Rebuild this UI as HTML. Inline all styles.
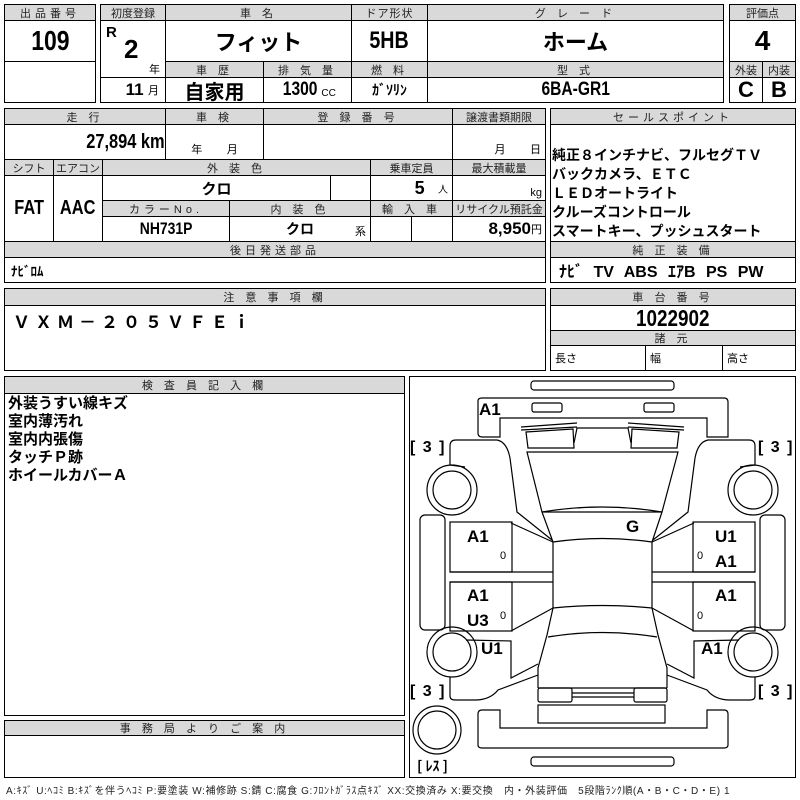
<!DOCTYPE html>
<html><head><meta charset="utf-8">
<style>
body{margin:0;width:800px;height:800px;background:#fff;position:relative;overflow:hidden;font-family:"Liberation Sans","Noto Sans CJK JP",sans-serif;}
.c{position:absolute;border:1px solid #000;box-sizing:border-box;display:flex;align-items:center;justify-content:center;background:#fff;color:#000;white-space:nowrap;}
.h{background:#d9d9d9;font-size:11px;letter-spacing:4px;color:#222;}
.b{font-family:"Liberation Sans Narrow","Liberation Sans","Noto Sans CJK JP",sans-serif;font-weight:bold;}
.j{font-family:"Noto Sans CJK JP",sans-serif;font-weight:bold;}
.t{position:absolute;white-space:nowrap;}
.n{display:inline-block;transform:scaleX(0.82);}
</style></head><body>
<div class="c h" style="left:4px;top:4px;width:92px;height:17px">出品番号</div>
<div class="c b" style="left:4px;top:20px;width:92px;height:42px;font-size:28px"><span class="n">109</span></div>
<div class="c" style="left:4px;top:61px;width:92px;height:42px"></div>
<div class="c h" style="left:100px;top:4px;width:66px;height:17px;letter-spacing:0">初度登録</div>
<div class="c h" style="left:165px;top:4px;width:187px;height:17px">車 名</div>
<div class="c h" style="left:351px;top:4px;width:77px;height:17px;letter-spacing:1px">ドア形状</div>
<div class="c h" style="left:427px;top:4px;width:297px;height:17px">グ レ ー ド</div>
<div class="c" style="left:100px;top:20px;width:66px;height:58px"></div>
<div class="t b" style="left:106px;top:24px;font-size:15px">R</div>
<div class="t b" style="left:124px;top:34px;font-size:26px">2</div>
<div class="t" style="left:149px;top:61px;font-size:11px">年</div>
<div class="c" style="left:100px;top:77px;width:66px;height:26px;justify-content:flex-end;padding-right:6px"><span class="b" style="font-size:17px">11</span>&nbsp;<span style="font-size:11px">月</span></div>
<div class="c j" style="left:165px;top:20px;width:187px;height:42px;font-size:22px">フィット</div>
<div class="c h" style="left:165px;top:61px;width:99px;height:17px">車 歴</div>
<div class="c h" style="left:263px;top:61px;width:89px;height:17px">排 気 量</div>
<div class="c j" style="left:165px;top:77px;width:99px;height:26px;font-size:20px">自家用</div>
<div class="c" style="left:263px;top:77px;width:89px;height:26px"><span class="b n" style="font-size:19px">1300</span><span style="font-size:10px;margin-top:6px">CC</span></div>
<div class="c b" style="left:351px;top:20px;width:77px;height:42px;font-size:24px"><span class="n">5HB</span></div>
<div class="c h" style="left:351px;top:61px;width:77px;height:17px">燃 料</div>
<div class="c j" style="left:351px;top:77px;width:77px;height:26px;font-size:14px">ｶﾞｿﾘﾝ</div>
<div class="c j" style="left:427px;top:20px;width:297px;height:42px;font-size:22px">ホーム</div>
<div class="c h" style="left:427px;top:61px;width:297px;height:17px">型 式</div>
<div class="c b" style="left:427px;top:77px;width:297px;height:26px;font-size:19px"><span class="n">6BA-GR1</span></div>
<div class="c h" style="left:729px;top:4px;width:67px;height:17px;letter-spacing:0">評価点</div>
<div class="c b" style="left:729px;top:20px;width:67px;height:42px;font-size:28px">4</div>
<div class="c h" style="left:729px;top:61px;width:34px;height:17px;letter-spacing:0">外装</div>
<div class="c h" style="left:762px;top:61px;width:34px;height:17px;letter-spacing:0">内装</div>
<div class="c b" style="left:729px;top:77px;width:34px;height:26px;font-size:22px">C</div>
<div class="c b" style="left:762px;top:77px;width:34px;height:26px;font-size:22px">B</div>
<div class="c h" style="left:4px;top:108px;width:162px;height:17px">走 行</div>
<div class="c h" style="left:165px;top:108px;width:99px;height:17px">車 検</div>
<div class="c h" style="left:263px;top:108px;width:190px;height:17px">登 録 番 号</div>
<div class="c h" style="left:452px;top:108px;width:94px;height:17px;letter-spacing:0">譲渡書類期限</div>
<div class="c" style="left:4px;top:124px;width:162px;height:36px;justify-content:flex-end;padding-right:0"><span class="b n" style="font-size:20px;transform-origin:right">27,894 km</span></div>
<div class="c" style="left:165px;top:124px;width:99px;height:36px;font-size:11px;align-items:flex-end;padding-bottom:2px">年&nbsp;&nbsp;&nbsp;&nbsp;&nbsp;&nbsp;&nbsp;&nbsp;月</div>
<div class="c" style="left:263px;top:124px;width:190px;height:36px"></div>
<div class="c" style="left:452px;top:124px;width:94px;height:36px;font-size:11px;align-items:flex-end;justify-content:flex-end;padding:0 4px 2px 0">月&nbsp;&nbsp;&nbsp;&nbsp;&nbsp;&nbsp;&nbsp;&nbsp;日</div>
<div class="c h" style="left:4px;top:159px;width:50px;height:17px;letter-spacing:0">シフト</div>
<div class="c h" style="left:53px;top:159px;width:50px;height:17px;letter-spacing:0">エアコン</div>
<div class="c h" style="left:102px;top:159px;width:269px;height:17px">外 装 色</div>
<div class="c h" style="left:370px;top:159px;width:83px;height:17px;letter-spacing:0">乗車定員</div>
<div class="c h" style="left:452px;top:159px;width:94px;height:17px;letter-spacing:0">最大積載量</div>
<div class="c b" style="left:4px;top:175px;width:50px;height:67px;font-size:20px"><span class="n">FAT</span></div>
<div class="c b" style="left:53px;top:175px;width:50px;height:67px;font-size:20px"><span class="n">AAC</span></div>
<div class="c j" style="left:102px;top:175px;width:229px;height:26px;font-size:15px">クロ</div>
<div class="c" style="left:330px;top:175px;width:41px;height:26px"></div>
<div class="c" style="left:370px;top:175px;width:83px;height:26px;justify-content:flex-end;padding-right:4px"><span class="b" style="font-size:18px">5</span>&nbsp;&nbsp;&nbsp;<span style="font-size:10px">人</span></div>
<div class="c" style="left:452px;top:175px;width:94px;height:26px;font-size:11px;justify-content:flex-end;align-items:flex-end;padding:0 3px 1px 0">kg</div>
<div class="c h" style="left:102px;top:200px;width:128px;height:17px">カラーNo.</div>
<div class="c h" style="left:229px;top:200px;width:142px;height:17px">内 装 色</div>
<div class="c h" style="left:370px;top:200px;width:83px;height:17px">輸 入 車</div>
<div class="c h" style="left:452px;top:200px;width:94px;height:17px;letter-spacing:0">リサイクル預託金</div>
<div class="c b" style="left:102px;top:216px;width:128px;height:26px;font-size:17px"><span class="n">NH731P</span></div>
<div class="c j" style="left:229px;top:216px;width:142px;height:26px;font-size:14px">クロ<span style="position:absolute;right:4px;bottom:2px;font-size:11px;font-weight:normal">系</span></div>
<div class="c" style="left:370px;top:216px;width:42px;height:26px"></div>
<div class="c" style="left:411px;top:216px;width:42px;height:26px"></div>
<div class="c" style="left:452px;top:216px;width:94px;height:26px;justify-content:flex-end;padding-right:3px"><span class="b" style="font-size:17px">8,950</span><span style="font-size:11px">円</span></div>
<div class="c h" style="left:4px;top:241px;width:542px;height:17px">後日発送部品</div>
<div class="c j" style="left:4px;top:257px;width:542px;height:26px;font-size:13px;justify-content:flex-start;padding-left:6px">ﾅﾋﾞﾛﾑ</div>
<div class="c h" style="left:550px;top:108px;width:246px;height:17px">セールスポイント</div>
<div class="c" style="left:550px;top:124px;width:246px;height:118px"></div>
<div class="t j" style="left:552px;top:146px;font-size:14px;line-height:19px">純正８インチナビ、フルセグＴＶ<br>バックカメラ、ＥＴＣ<br>ＬＥＤオートライト<br>クルーズコントロール<br>スマートキー、プッシュスタート</div>
<div class="c h" style="left:550px;top:241px;width:246px;height:17px">純 正 装 備</div>
<div class="c b" style="left:550px;top:257px;width:246px;height:26px;font-size:16px;justify-content:flex-start;padding-left:8px;word-spacing:6px">ﾅﾋﾞ TV ABS ｴｱB PS PW</div>
<div class="c h" style="left:4px;top:288px;width:542px;height:18px">注 意 事 項 欄</div>
<div class="c" style="left:4px;top:305px;width:542px;height:66px;align-items:flex-start;justify-content:flex-start;padding:2px 0 0 8px;font-size:17px;letter-spacing:5px;font-weight:bold">ＶＸＭ－２０５ＶＦＥｉ</div>
<div class="c h" style="left:550px;top:288px;width:246px;height:18px">車 台 番 号</div>
<div class="c b" style="left:550px;top:305px;width:246px;height:26px;font-size:23px"><span class="n">1022902</span></div>
<div class="c h" style="left:550px;top:330px;width:246px;height:16px">諸 元</div>
<div class="c" style="left:550px;top:345px;width:96px;height:26px;font-size:11px;justify-content:flex-start;padding-left:4px">長さ</div>
<div class="c" style="left:645px;top:345px;width:78px;height:26px;font-size:11px;justify-content:flex-start;padding-left:4px">幅</div>
<div class="c" style="left:722px;top:345px;width:74px;height:26px;font-size:11px;justify-content:flex-start;padding-left:4px">高さ</div>
<div class="c h" style="left:4px;top:376px;width:401px;height:18px">検 査 員 記 入 欄</div>
<div class="c" style="left:4px;top:393px;width:401px;height:323px"></div>
<div class="t j" style="left:8px;top:394px;font-size:15px;line-height:18px">外装うすい線キズ<br>室内薄汚れ<br>室内内張傷<br>タッチＰ跡<br>ホイールカバーＡ</div>
<div class="c h" style="left:4px;top:720px;width:401px;height:16px">事 務 局 よ り ご 案 内</div>
<div class="c" style="left:4px;top:735px;width:401px;height:43px"></div>
<div class="c" style="left:409px;top:376px;width:387px;height:402px"></div>
<svg style="position:absolute;left:0;top:0" width="800" height="800" fill="none" stroke="#000" stroke-width="1.2">
<rect x="531" y="381" width="143" height="9" rx="3"/>
<path d="M478,401 Q478,398 482,398 L724,398 Q728,398 728,402 L728,437 L707,437 L707,418 L500,418 L500,437 L482,437 Q478,437 478,433 Z"/>
<rect x="532" y="403" width="30" height="9" rx="2"/><rect x="644" y="403" width="30" height="9" rx="2"/>
<path d="M521,427 L577,423 M521,430 L577,427 M526,432 L573,429 L574,448 L528,448 Z"/>
<path d="M684,427 L628,423 M684,430 L628,427 M679,432 L632,429 L631,448 L677,448 Z"/>
<path d="M574,443 L577,428 L628,428 L631,443"/>
<path d="M527,452 L678,452 L662,512 L542,512 Z"/>
<path d="M542,512 Q602,502 662,512"/>
<path d="M542,512 L553,542 M662,512 L652,542"/>
<path d="M553,542 Q602,535 652,542 L652,608 Q602,603 553,608 Z"/>
<path d="M450,465 L450,446 Q450,440 456,440 L497,440 Q507,442 510,458 L517,512 L552,540"/>
<path d="M450,465 L465,467"/>
<circle cx="452" cy="490" r="25"/><circle cx="452" cy="490" r="19"/>
<circle cx="452" cy="652" r="25"/><circle cx="452" cy="652" r="19"/>
<circle cx="437" cy="730" r="24"/><circle cx="437" cy="730" r="19"/>
<rect x="420" y="515" width="25" height="115" rx="5"/>
<rect x="450" y="522" width="62" height="50"/><rect x="450" y="582" width="62" height="49"/>
<path d="M511,523 L553,542 M511,631 L553,608 M450,572 L553,572 M450,582 L553,582"/>
<path d="M466,640 L511,641 L511,678 L538,664"/>
<path d="M450,677 L450,696 Q450,700 455,700 L475,700 Q490,700 498,690 L538,675"/>
<path d="M755,465 L755,446 Q755,440 749,440 L708,440 Q698,442 695,458 L688,512 L653,540"/>
<path d="M755,465 L740,467"/>
<circle cx="753" cy="490" r="25"/><circle cx="753" cy="490" r="19"/>
<circle cx="753" cy="652" r="25"/><circle cx="753" cy="652" r="19"/>
<rect x="760" y="515" width="25" height="115" rx="5"/>
<rect x="693" y="522" width="62" height="50"/><rect x="693" y="582" width="62" height="49"/>
<path d="M694,523 L652,542 M694,631 L652,608 M755,572 L652,572 M755,582 L652,582"/>
<path d="M739,640 L694,641 L694,678 L667,664"/>
<path d="M755,677 L755,696 Q755,700 750,700 L730,700 Q715,700 707,690 L667,675"/>
<path d="M553,608 L547,635 L538,668 L538,688 M652,608 L658,635 L667,668 L667,688"/>
<path d="M548,637 Q602,628 657,637"/>
<path d="M538,688 L667,688"/>
<rect x="538" y="688" width="34" height="14" rx="2"/><rect x="634" y="688" width="33" height="14" rx="2"/>
<path d="M572,693 L634,693 M572,697 L634,697"/>
<rect x="538" y="705" width="127" height="18"/>
<path d="M478,714 Q478,710 482,710 L500,710 L500,728 L707,728 L707,710 L724,710 Q728,710 728,714 L728,745 Q728,748 724,748 L482,748 Q478,748 478,745 Z"/>
<rect x="531" y="757" width="143" height="9" rx="3"/>
</svg>
<div class="t b" style="left:479px;top:400px;font-size:17px">A1</div>
<div class="t b" style="left:410px;top:439px;font-size:16px;word-spacing:3px">[ 3 ]</div>
<div class="t b" style="left:758px;top:439px;font-size:16px;word-spacing:3px">[ 3 ]</div>
<div class="t b" style="left:410px;top:683px;font-size:16px;word-spacing:3px">[ 3 ]</div>
<div class="t b" style="left:758px;top:683px;font-size:16px;word-spacing:3px">[ 3 ]</div>
<div class="t j" style="left:417px;top:756px;font-size:14px">[ ﾚｽ ]</div>
<div class="t b" style="left:626px;top:517px;font-size:17px">G</div>
<div class="t b" style="left:467px;top:527px;font-size:17px">A1</div>
<div class="t b" style="left:715px;top:527px;font-size:17px">U1</div>
<div class="t b" style="left:715px;top:552px;font-size:17px">A1</div>
<div class="t b" style="left:467px;top:586px;font-size:17px">A1</div>
<div class="t b" style="left:467px;top:611px;font-size:17px">U3</div>
<div class="t b" style="left:715px;top:586px;font-size:17px">A1</div>
<div class="t b" style="left:481px;top:639px;font-size:17px">U1</div>
<div class="t b" style="left:701px;top:639px;font-size:17px">A1</div>
<div class="t" style="left:500px;top:550px;font-size:11px">0</div>
<div class="t" style="left:500px;top:610px;font-size:11px">0</div>
<div class="t" style="left:697px;top:550px;font-size:11px">0</div>
<div class="t" style="left:697px;top:610px;font-size:11px">0</div>
<div class="t" style="left:6px;top:782px;font-size:10px;letter-spacing:0.6px;color:#222">A:ｷｽﾞ U:ﾍｺﾐ B:ｷｽﾞを伴うﾍｺﾐ P:要塗装 W:補修跡 S:錆 C:腐食 G:ﾌﾛﾝﾄｶﾞﾗｽ点ｷｽﾞ XX:交換済み X:要交換　内・外装評価　5段階ﾗﾝｸ順(A・B・C・D・E) 1</div>
</body></html>
